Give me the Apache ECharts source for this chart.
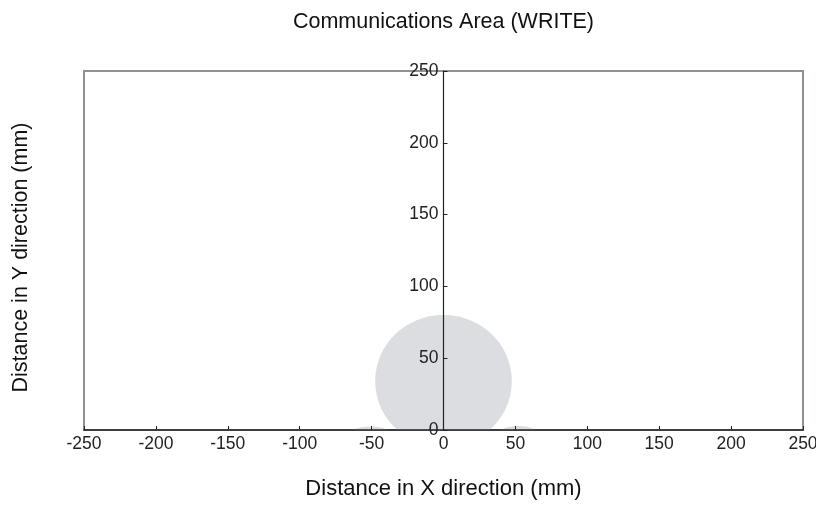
<!DOCTYPE html>
<html>
<head>
<meta charset="utf-8">
<script src="https://cdn.jsdelivr.net/npm/echarts@6/dist/echarts.min.js"></script>
<style>html,body{margin:0;padding:0;background:#fff;}#c{width:816px;height:506px;}</style>
</head>
<body>
<div id="c"></div>
<script>
// Tick values
const xTicks = [-250, -200, -150, -100, -50, 0, 50, 100, 150, 200, 250];
const yTicks = [0, 50, 100, 150, 200, 250];
// Communication regions (ellipses): centre x, centre y, radius x, radius y (mm)
const regionCX = [0, -51, 52];
const regionCY = [34, -5, -5];
const regionRX = [47.5, 17, 16];
const regionRY = [46, 7.5, 7.8];

const titleText = 'Communications Area (WRITE)';
const xName = 'Distance in X direction (mm)';
const yName = 'Distance in Y direction (mm)';

const regionData = regionCX.map((cx, i) => [cx, regionCY[i], regionRX[i], regionRY[i]]);
const FONT = '"Liberation Sans", Arial, sans-serif';

const W = 816, GL = 84, GR = 13;
const gridW = W - GL - GR;
const xMin = xTicks[0], xMax = xTicks[xTicks.length - 1];
// place the y axis at x = 0 (moved inward from the left edge of the grid)
const yAxisOffset = -gridW * (0 - xMin) / (xMax - xMin);
const plotCenterX = GL + gridW / 2;

const chart = echarts.init(document.getElementById('c'), null, {renderer: 'canvas'});
chart.setOption({
  animation: false,
  backgroundColor: '#ffffff',
  title: {
    text: titleText, left: plotCenterX, textAlign: 'center', top: 11, padding: 0,
    textStyle: {fontFamily: FONT, fontSize: 21.5, fontWeight: 'normal', color: '#111'}
  },
  grid: {
    left: GL, right: GR, top: 71, bottom: 76,
    outerBoundsMode: 'none', containLabel: false,
    show: true, borderColor: '#8b9299', borderWidth: 2, backgroundColor: 'transparent'
  },
  xAxis: {
    type: 'value', min: xMin, max: xMax, interval: 50,
    name: xName, nameLocation: 'middle', nameGap: 48,
    nameTextStyle: {fontFamily: FONT, fontSize: 22, color: '#111'},
    axisLine: {show: true, onZero: false, lineStyle: {color: '#222', width: 1.5}},
    axisTick: {show: true, inside: true, length: 4, lineStyle: {color: '#222'}},
    axisLabel: {fontFamily: FONT, fontSize: 17.5, color: '#222', margin: 5},
    splitLine: {show: false},
    z: 5
  },
  yAxis: [{
    type: 'value', min: yTicks[0], max: yTicks[yTicks.length - 1], interval: 50,
    position: 'left', offset: yAxisOffset,
    axisLine: {show: true, onZero: false, lineStyle: {color: '#222', width: 1.2}},
    axisTick: {show: true, inside: true, length: 4, lineStyle: {color: '#222'}},
    axisLabel: {fontFamily: FONT, fontSize: 17.5, color: '#222', margin: 5},
    splitLine: {show: false},
    z: 5
  }, {
    type: 'value', min: yTicks[0], max: yTicks[yTicks.length - 1], position: 'left', offset: 0,
    name: yName, nameLocation: 'middle', nameGap: 52,
    nameTextStyle: {fontFamily: FONT, fontSize: 21.5, color: '#111', padding: [0, 14, 0, 0]},
    axisLine: {show: false}, axisTick: {show: false}, axisLabel: {show: false},
    splitLine: {show: false}
  }],
  series: [{
    type: 'custom',
    clip: true,
    xAxisIndex: 0, yAxisIndex: 0,
    encode: {x: 0, y: 1},
    data: regionData,
    renderItem: function (params, api) {
      const c = api.coord([api.value(0), api.value(1)]);
      const s = api.size([api.value(2), api.value(3)]);
      return {
        type: 'ellipse',
        shape: {cx: c[0], cy: c[1], rx: s[0], ry: s[1]},
        style: {fill: '#dcdde0', stroke: null}
      };
    },
    z: 1
  }]
});
</script>
</body>
</html>
